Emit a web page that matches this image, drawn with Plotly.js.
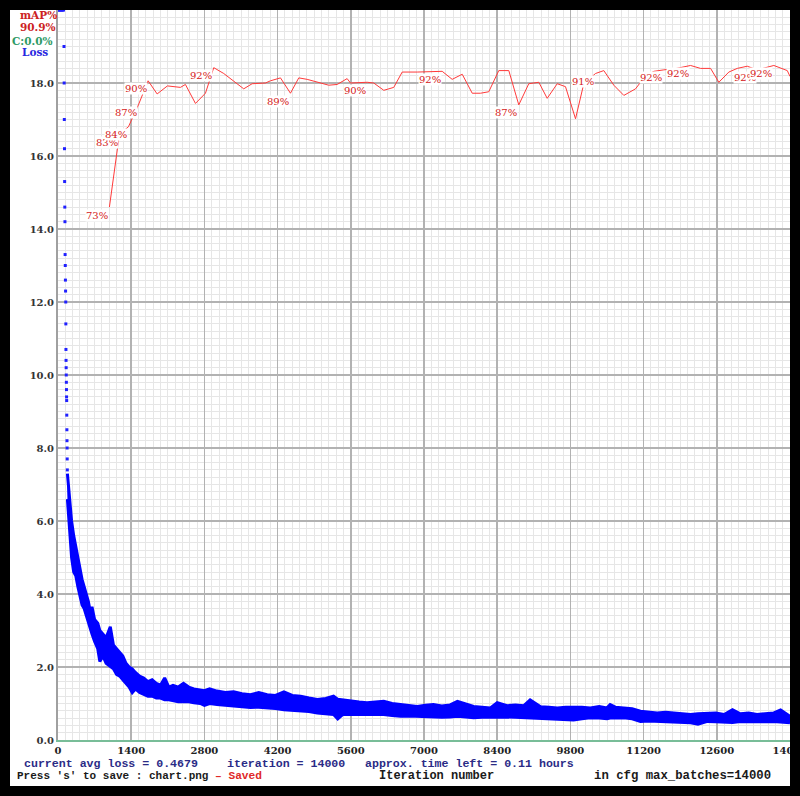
<!DOCTYPE html>
<html><head><meta charset="utf-8">
<script src="https://cdn.plot.ly/plotly-3.0.1.min.js"></script>
<style>
html,body{margin:0;padding:0;background:#000;width:800px;height:796px;overflow:hidden;}
#chart{position:absolute;left:10px;top:10px;width:780px;height:776px;}
</style></head><body><div id="chart"></div>
<script>
// ---- data ----
const xTicks = [0,1400,2800,4200,5600,7000,8400,9800,11200,12600,14000];
const yTicks = [0,2,4,6,8,10,12,14,16,18];

// early loss dots (iteration, loss) - values above the chart are clamped at 20
const dotIter = [0,15,30,45,60,75,90,105,115,118,121,124,127,130,133,136,139,142,145,148,150,152,154,156,158,160,162,164,166,168,170,172,174,176,178];
const dotLoss = [20,20,20,20,20,20,20,20,19.0,18.0,17.0,16.2,15.3,14.6,14.2,13.3,13.0,12.6,12.3,12.0,11.4,10.7,10.4,10.2,10.0,9.8,9.6,9.4,9.3,8.9,8.5,8.2,8.0,7.7,7.4];

// loss band (lower / upper edge of the dense blue band)
const lossIter = [180,220,260,300,340,380,420,460,500,540,580,620,650,700,760,800,860,920,1000,1060,1120,1180,1240,1300,1360,1420,1480,1560,1640,1720,1800,1880,1960,2040,2120,2200,2300,2400,2500,2600,2720,2800,2900,3040,3200,3360,3520,3680,3840,4000,4160,4320,4480,4640,4800,4960,5120,5270,5350,5450,5600,5760,5910,6070,6230,6390,6550,6710,6870,7030,7180,7340,7500,7640,7800,7950,8110,8270,8400,8590,8750,8910,9030,9230,9390,9550,9710,9860,10020,10180,10350,10500,10560,10660,10820,10980,11140,11300,11460,11620,11780,11940,12100,12240,12420,12580,12740,12900,13050,13210,13370,13530,13690,13820,14000];
const lossLow = [6.6,5.8,5.0,4.6,4.5,4.2,3.9,3.7,3.6,3.4,3.2,3.0,2.9,2.7,2.5,2.15,2.3,2.1,2.0,1.95,1.8,1.75,1.65,1.55,1.45,1.3,1.4,1.3,1.25,1.2,1.2,1.15,1.15,1.1,1.1,1.08,1.05,1.05,1.05,1.02,1.0,0.95,1.0,0.97,0.95,0.92,0.9,0.89,0.9,0.89,0.86,0.83,0.82,0.79,0.78,0.74,0.72,0.70,0.58,0.70,0.70,0.70,0.70,0.68,0.70,0.67,0.65,0.66,0.65,0.63,0.61,0.62,0.63,0.65,0.63,0.61,0.62,0.63,0.63,0.63,0.62,0.61,0.60,0.58,0.59,0.58,0.57,0.55,0.58,0.61,0.60,0.58,0.60,0.60,0.61,0.58,0.51,0.52,0.51,0.50,0.49,0.48,0.47,0.43,0.51,0.50,0.49,0.48,0.51,0.50,0.51,0.50,0.51,0.50,0.47];
const lossHigh = [7.3,6.6,6.0,5.6,5.3,4.9,4.6,4.4,4.2,4.0,3.8,3.5,3.65,3.3,3.2,3.0,2.9,2.8,3.1,2.6,2.5,2.4,2.3,2.1,2.0,1.95,1.85,1.75,1.7,1.6,1.65,1.55,1.5,1.7,1.45,1.5,1.45,1.55,1.45,1.4,1.38,1.35,1.4,1.34,1.3,1.32,1.27,1.24,1.3,1.24,1.22,1.32,1.22,1.2,1.15,1.11,1.14,1.2,1.12,1.1,1.06,1.04,1.02,1.05,1.06,1.0,0.97,0.95,0.92,0.95,0.97,0.93,0.96,1.06,0.98,0.92,0.9,0.88,1.02,0.94,0.96,0.94,1.1,0.91,0.9,0.88,0.9,0.91,0.9,0.88,0.92,0.88,0.97,0.9,0.88,0.86,0.79,0.76,0.74,0.76,0.74,0.72,0.7,0.72,0.72,0.74,0.7,0.83,0.72,0.74,0.7,0.72,0.74,0.82,0.65];

// mAP (%) evaluations
const mapIter = [983,1175,1347,1538,1724,1896,2093,2342,2437,2629,2820,2979,3170,3552,3713,3968,4063,4255,4446,4605,4765,5020,5178,5339,5530,5594,5913,6039,6231,6422,6583,6870,7348,7539,7731,7922,8081,8239,8430,8622,8813,9004,9196,9356,9548,9706,9898,10056,10280,10439,10630,10822,11046,11237,11396,11587,11830,12098,12289,12481,12639,12830,12991,13182,13374,13691,13948,14000];
const mapValue = [73.0,83.0,84.0,87.0,90.3,88.5,89.6,89.4,89.8,87.2,88.6,92.1,91.3,89.2,89.9,90.0,90.3,90.7,88.6,90.7,90.5,90.0,89.7,89.8,90.6,90.0,90.1,90.0,89.0,89.4,91.5,91.5,91.6,90.5,91.2,88.6,88.6,88.8,91.7,91.7,87.0,89.9,90.1,87.9,89.9,89.5,85.1,89.9,91.3,91.7,89.7,88.3,89.2,91.0,91.6,91.8,92.0,92.4,92.0,92.0,90.1,91.5,92.0,92.3,91.8,92.4,91.7,90.9];
// which mAP points carry a percentage label
const mapLabelAt = [0,1,2,3,4,11,18,26,32,40,48,55,57,64,65];

const legendLines = ['mAP%','90.9%','C:0.0%','Loss'];
const statusLine1 = ['current avg loss = 0.4679','iteration = 14000','approx. time left = 0.11 hours'];
const statusLine2 = ["Press 's' to save : chart.png",'\u2013 Saved','Iteration number','in cfg max_batches=14000'];

// ---- layout helpers (page pixel -> paper fraction) ----
const W = 780, H = 776, M = {l:48, r:0, t:0, b:46, pad:0};
const px = xp => (xp - 10 - M.l) / (W - M.l - M.r);
const py = yp => 1 - (yp - 10 - M.t) / (H - M.t - M.b);

const serif = 'DejaVu Serif';
const mono = 'Liberation Mono';

const traces = [
  {x: lossIter, y: lossLow, mode:'lines', line:{color:'#0000ff', width:3}, hoverinfo:'skip', showlegend:false},
  {x: lossIter, y: lossHigh, mode:'lines', fill:'tonexty', fillcolor:'#0000ff', line:{color:'#0000ff', width:3}, hoverinfo:'skip', showlegend:false},
  {x: dotIter, y: dotLoss, mode:'markers', marker:{symbol:'square', size:3, color:'#2020ff'}, cliponaxis:false, hoverinfo:'skip', showlegend:false},
  {x: mapIter, y: mapValue, yaxis:'y2', mode:'lines', line:{color:'#ff3a3a', width:1}, hoverinfo:'skip', showlegend:false}
];

const ann = [];
mapLabelAt.forEach(i => {
  ann.push({x: mapIter[i], y: mapValue[i], xref:'x', yref:'y2', text: Math.round(mapValue[i]) + '%',
    showarrow:false, xshift:-12.5, yshift:-8, bgcolor:'#ffffff', borderpad:0,
    font:{family:serif, size:10, color:'#d42020'}});
});
const legendPos = [[38,15,'#cc2222'],[38,27,'#cc2222'],[33,41,'#2e9a66'],[35,52,'#2828e0']];
legendLines.forEach((t,i) => {
  ann.push({xref:'paper', yref:'paper', x:px(legendPos[i][0]), y:py(legendPos[i][1]), text:t, showarrow:false,
    xanchor:'center', yanchor:'middle', font:{family:serif, size:10.5, color:legendPos[i][2], weight:'bold'}});
});
const s1x = [22, 225, 363];
statusLine1.forEach((t,i) => {
  ann.push({xref:'paper', yref:'paper', x:px(s1x[i]), y:py(763), text:t, showarrow:false,
    xanchor:'left', yanchor:'middle', font:{family:mono, size:11.6, color:'#2b2b86', weight:'bold'}});
});
const s2x = [15, 213, 377, 592];
const s2c = ['#1a1a1a', '#e02828', '#1a1a1a', '#1a1a1a'];
const s2s = [11, 11.2, 12, 12.3];
statusLine2.forEach((t,i) => {
  ann.push({xref:'paper', yref:'paper', x:px(s2x[i]), y:py(776), text:t, showarrow:false,
    xanchor:'left', yanchor:'middle', font:{family:mono, size:s2s[i], color:s2c[i], weight:'bold'}});
});

const layout = {
  width: W, height: H, margin: M,
  paper_bgcolor:'#ffffff', plot_bgcolor:'#ffffff',
  showlegend:false,
  xaxis: {
    range:[0,14000], tickmode:'array', tickvals:xTicks, ticktext:xTicks.map(String),
    showgrid:true, gridcolor:'#b2b2b2', gridwidth:1.5,
    minor:{tickmode:'linear', tick0:0, dtick:140, showgrid:true, gridcolor:'#e6e6e6', gridwidth:1},
    showline:true, linecolor:'#78bd98', linewidth:2, zeroline:false, ticks:'',
    ticklabeloverflow:'allow',
    tickfont:{family:serif, size:10, color:'#222', weight:'bold'}, automargin:false
  },
  yaxis: {
    range:[0,20], tickmode:'array', tickvals:yTicks, ticktext:yTicks.map(v => v.toFixed(1)),
    showgrid:true, gridcolor:'#b2b2b2', gridwidth:1.5,
    minor:{tickmode:'linear', tick0:0, dtick:0.2, showgrid:true, gridcolor:'#e6e6e6', gridwidth:1},
    showline:true, linecolor:'#a0a0a0', linewidth:2, zeroline:false, ticks:'',
    tickfont:{family:serif, size:10, color:'#333', weight:'bold'}, automargin:false
  },
  yaxis2: {overlaying:'y', range:[0,100], visible:false},
  annotations: ann
};

Plotly.newPlot('chart', traces, layout, {staticPlot:true, displayModeBar:false});
</script></body></html>
